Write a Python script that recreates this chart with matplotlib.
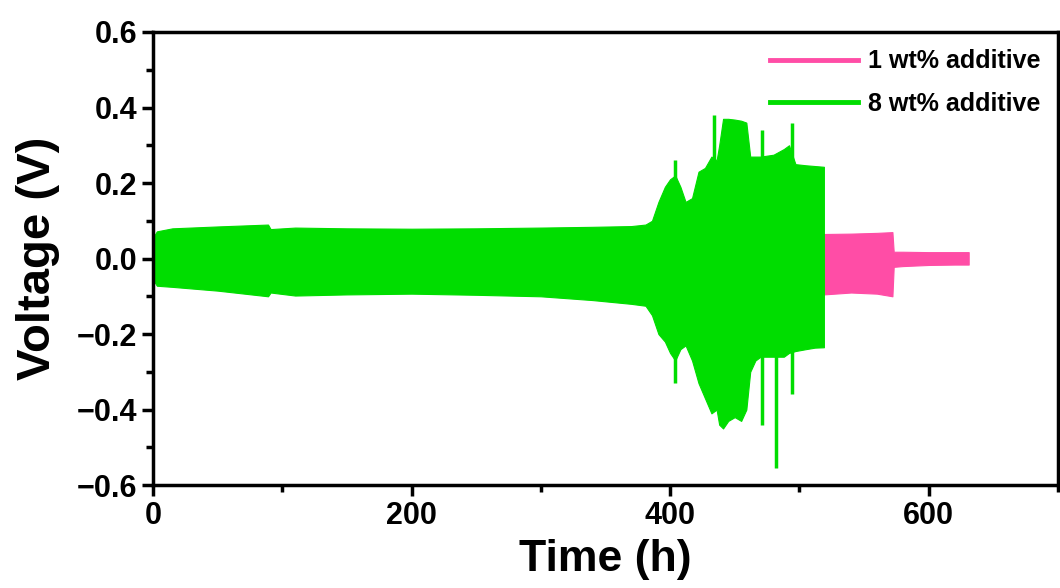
import matplotlib
matplotlib.use('Agg')
import matplotlib.pyplot as plt
from matplotlib.lines import Line2D
from matplotlib.ticker import MultipleLocator, FuncFormatter

plt.rcParams['font.family'] = ['Liberation Sans', 'DejaVu Sans']
plt.rcParams['font.weight'] = 'bold'

# 8 wt% additive: voltage envelope (upper / lower)
t_green = [0, 3, 15, 50, 89, 91, 110, 150, 200, 250,
           300, 340, 370, 381, 386, 391, 396, 400, 404, 408,
           412, 417, 422, 427, 432, 436, 438, 441, 445, 450,
           455, 459, 462, 466, 470, 480, 488, 492, 497, 505,
           512, 519]
up_green = [0.055, 0.072, 0.08, 0.085, 0.09, 0.078, 0.082, 0.08, 0.079, 0.08,
            0.082, 0.084, 0.086, 0.09, 0.10, 0.15, 0.19, 0.21, 0.22, 0.19,
            0.15, 0.16, 0.23, 0.24, 0.27, 0.26, 0.30, 0.37, 0.37, 0.368,
            0.365, 0.36, 0.27, 0.27, 0.27, 0.275, 0.29, 0.30, 0.25, 0.247,
            0.245, 0.243]
lo_green = [-0.055, -0.072, -0.075, -0.085, -0.10, -0.09, -0.098, -0.095, -0.093, -0.096,
            -0.10, -0.11, -0.12, -0.125, -0.15, -0.20, -0.22, -0.25, -0.27, -0.24,
            -0.23, -0.27, -0.33, -0.37, -0.41, -0.40, -0.44, -0.45, -0.43, -0.42,
            -0.43, -0.40, -0.30, -0.27, -0.26, -0.26, -0.26, -0.25, -0.245, -0.24,
            -0.236, -0.235]

# isolated voltage spikes of the 8 wt% cell
spike_t = [404, 434, 471, 494, 404, 471, 482, 494]
spike_v = [0.26, 0.38, 0.34, 0.36, -0.33, -0.44, -0.555, -0.36]

# 1 wt% additive: envelope after the 8 wt% trace ends
t_pink = [519, 540, 560, 572, 573, 580, 600, 620, 631]
up_pink = [0.065, 0.066, 0.068, 0.07, 0.018, 0.018, 0.017, 0.017, 0.017]
lo_pink = [-0.095, -0.09, -0.093, -0.10, -0.022, -0.02, -0.017, -0.016, -0.016]

pink = '#ff4da6'
green = '#00dd00'

fig = plt.figure(figsize=(10.6, 5.88), dpi=100)
ax = fig.add_axes([0.1443, 0.175, 0.8537, 0.7706])

ax.fill_between(t_pink, lo_pink, up_pink, color=pink, lw=0.8)
ax.fill_between(t_green, lo_green, up_green, color=green, lw=0.8)
ax.vlines(spike_t, 0, spike_v, color=green, lw=2.5)

ax.set_xlim(0, 700)
ax.set_ylim(-0.6, 0.6)
ax.xaxis.set_major_locator(MultipleLocator(200))
ax.xaxis.set_minor_locator(MultipleLocator(100))
ax.yaxis.set_major_locator(MultipleLocator(0.2))
ax.yaxis.set_minor_locator(MultipleLocator(0.1))
ax.yaxis.set_major_formatter(FuncFormatter(lambda v, p: f'{v:.1f}'.replace('-', '\u2212')))

for s in ax.spines.values():
    s.set_linewidth(2.5)
ax.tick_params(which='major', direction='out', length=8, width=2.5, labelsize=22)
ax.tick_params(which='minor', direction='out', length=5, width=2.5)
for lab in ax.get_xticklabels() + ax.get_yticklabels():
    lab.set_fontweight('bold')

ax.set_xlabel('Time (h)', fontsize=32, fontweight='bold', labelpad=6)
ax.set_ylabel('Voltage (V)', fontsize=34, fontweight='bold', labelpad=12)

handles = [Line2D([], [], color=pink, lw=3.5), Line2D([], [], color=green, lw=3.5)]
ax.legend(handles, ['1 wt% additive', '8 wt% additive'], loc='upper right',
          frameon=False, handlelength=3.5, handletextpad=0.4, labelspacing=0.75,
          borderaxespad=0.3, prop={'weight': 'bold', 'size': 18})

fig.savefig('out.png', dpi=100)
